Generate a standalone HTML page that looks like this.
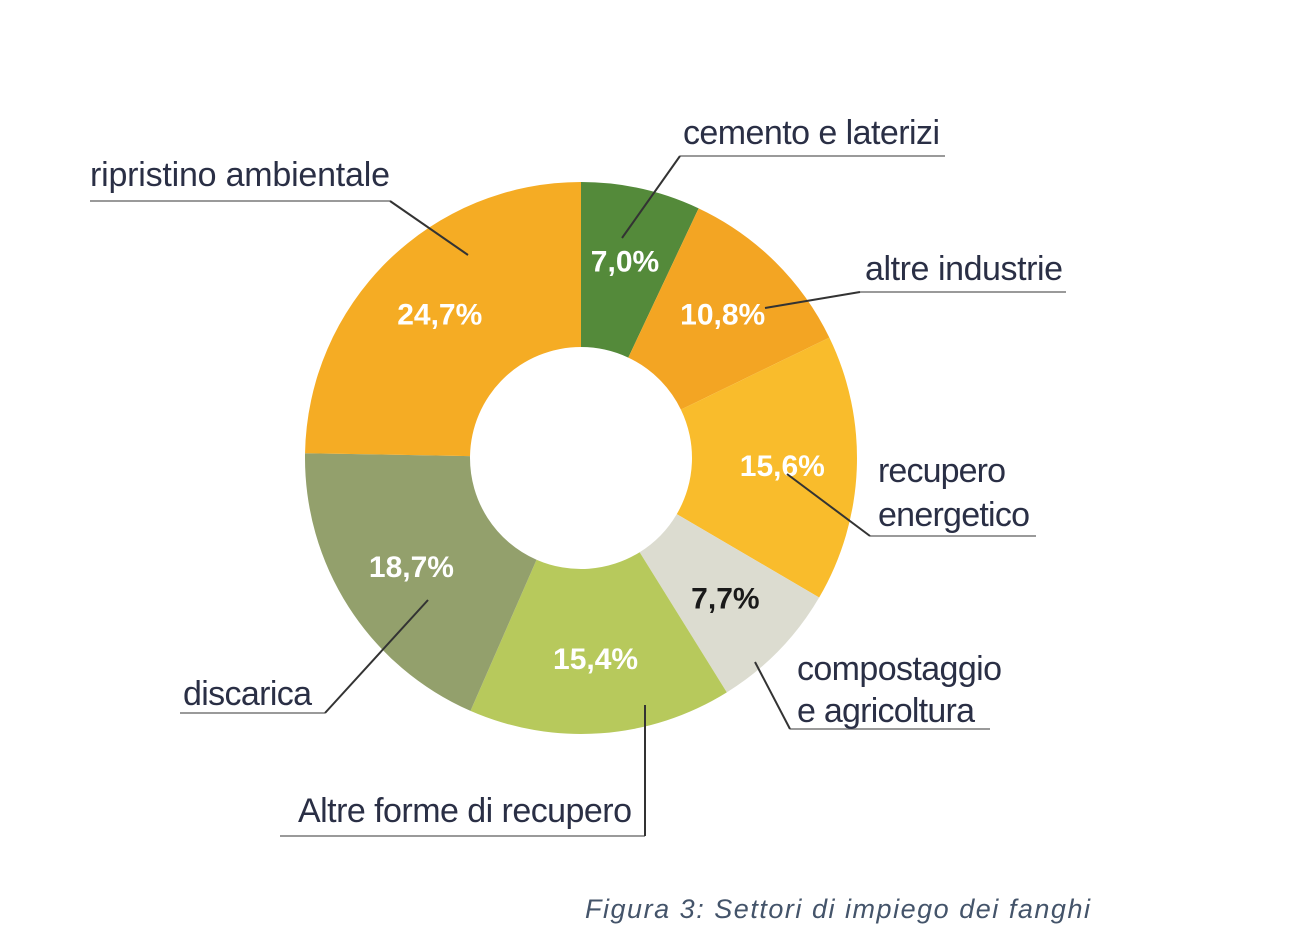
<!DOCTYPE html>
<html><head><meta charset="utf-8"><style>
html,body{margin:0;padding:0;background:#fff;}
svg{display:block;}
.lbl{font-family:"Liberation Sans Narrow","Liberation Sans",sans-serif;font-size:34px;fill:#2a2f45;}
.pct{font-family:"Liberation Sans",sans-serif;font-weight:bold;font-size:30px;text-anchor:middle;}
</style></head><body>
<svg id="chart" width="1314" height="948" viewBox="0 0 1314 948">
<g id="slices"></g>
<g id="labels"></g>
<g fill="none" stroke-width="2">
 <g stroke="#9a9a9a"><path d="M90 201H390"/><path d="M680 156H945"/><path d="M860 292H1066"/><path d="M870 536H1036"/><path d="M790 729H990"/><path d="M280 836H645"/><path d="M180 713H325"/></g>
 <g stroke="#333"><path d="M390 201L468 255"/><path d="M680 156L622 238"/><path d="M860 292L765 308"/><path d="M870 536L787 474"/><path d="M790 729L755 662"/><path d="M645 836V705"/><path d="M325 713L428 600"/></g>
</g>
<g>
 <text class="lbl" x="90" y="186" textLength="300">ripristino ambientale</text>
 <text class="lbl" x="683" y="144" textLength="257">cemento e laterizi</text>
 <text class="lbl" x="865" y="280" textLength="198">altre industrie</text>
 <text class="lbl" x="878" y="482" textLength="128">recupero</text>
 <text class="lbl" x="878" y="526" textLength="152">energetico</text>
 <text class="lbl" x="797" y="680" textLength="205">compostaggio</text>
 <text class="lbl" x="797" y="722" textLength="178">e agricoltura</text>
 <text class="lbl" x="298" y="822" textLength="334">Altre forme di recupero</text>
 <text class="lbl" x="183" y="705" textLength="129">discarica</text>
</g>
<text x="585" y="918" font-family="'Liberation Sans',sans-serif" font-style="italic" font-size="27" fill="#44546a" textLength="505">Figura 3: Settori di impiego dei fanghi</text>
</svg>
<script>
const categories=["cemento e laterizi","altre industrie","recupero energetico","compostaggio e agricoltura","Altre forme di recupero","discarica","ripristino ambientale"];
const values=[7.0,10.8,15.6,7.7,15.4,18.7,24.7];
const valueLabels=["7,0%","10,8%","15,6%","7,7%","15,4%","18,7%","24,7%"];
const colors=["#548a3a","#f3a523","#f9bc2c","#dcdcd0","#b7c95c","#93a06c","#f5ac24"];
const labelColors=["#fff","#fff","#fff","#1a1a1a","#fff","#fff","#fff"];
const cx=581,cy=458,R=276,r=111;
const NS="http://www.w3.org/2000/svg";
const total=values.reduce((a,b)=>a+b,0);
function pt(a,rad){return [cx+rad*Math.sin(a),cy-rad*Math.cos(a)];}
let acc=0;
const gS=document.getElementById('slices'),gL=document.getElementById('labels');
values.forEach((v,i)=>{
 const a0=acc/total*2*Math.PI;acc+=v;const a1=acc/total*2*Math.PI;
 const lg=(a1-a0)>Math.PI?1:0;
 const p0=pt(a0,R),p1=pt(a1,R),q1=pt(a1,r),q0=pt(a0,r);
 const p=document.createElementNS(NS,'path');
 p.setAttribute('d',`M${p0}A${R} ${R} 0 ${lg} 1 ${p1}L${q1}A${r} ${r} 0 ${lg} 0 ${q0}Z`);
 p.setAttribute('fill',colors[i]);
 
 
 gS.appendChild(p);
 const am=(a0+a1)/2,m=pt(am,(R+r)/2+8);
 const t=document.createElementNS(NS,'text');
 t.setAttribute('x',m[0]);t.setAttribute('y',m[1]+10);
 t.setAttribute('class','pct');t.setAttribute('fill',labelColors[i]);
 t.textContent=valueLabels[i];
 
 
 gL.appendChild(t);
});
</script>
</body></html>
